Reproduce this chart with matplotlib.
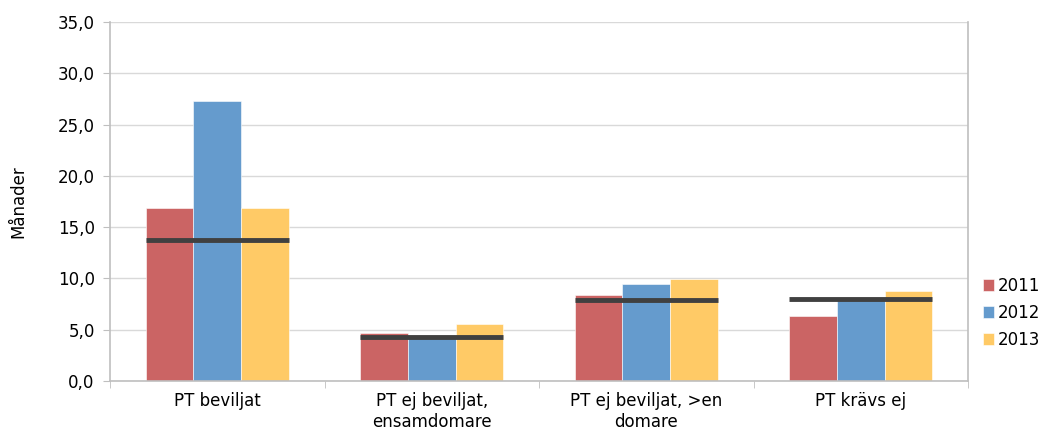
import numpy as np
import matplotlib
matplotlib.use("Agg")
import matplotlib.pyplot as plt

categories = ["PT beviljat", "PT ej beviljat,\nensamdomare", "PT ej beviljat, >en\ndomare", "PT krävs ej"]
years = ["2011", "2012", "2013"]
v2011 = [16.9, 4.7, 8.4, 6.3]
v2012 = [27.3, 4.3, 9.5, 7.9]
v2013 = [16.9, 5.6, 9.9, 8.8]
target = [13.7, 4.3, 7.9, 8.0]
colors = ["#CB6464", "#659BCD", "#FFCA66"]

plt.rcParams["font.family"] = ["DejaVu Sans"]
plt.rcParams["font.size"] = 12

fig = plt.figure(figsize=(10.45, 4.41), dpi=100)
ax = fig.add_axes([110 / 1045, 1 - 381 / 441, 858 / 1045, 359 / 441])

x = np.arange(len(categories))
w = 0.222
for i, (vals, c, lab) in enumerate(zip([v2011, v2012, v2013], colors, years)):
    ax.bar(x + (i - 1) * w, vals, w, color=c, label=lab, zorder=2,
           edgecolor="white", linewidth=0.4)

for xi, t in zip(x, target):
    ax.plot([xi - 1.5 * w, xi + 1.5 * w], [t, t], color="#404040", lw=3.5,
            solid_capstyle="butt", zorder=3)

ax.set_xlim(-0.5, len(categories) - 0.5)
ax.set_ylim(0, 35)
ax.set_yticks(np.arange(0, 36, 5))
ax.set_yticklabels([f"{v:.1f}".replace(".", ",") for v in np.arange(0, 36, 5)])
ax.set_xticks(x)
ax.set_xticklabels(categories)
ax.set_xticks(np.arange(-0.5, len(categories), 1), minor=True)
ax.tick_params(axis="x", which="major", length=0, pad=8)
ax.tick_params(axis="x", which="minor", length=5, color="#BFBFBF")
ax.tick_params(axis="y", length=5, color="#BFBFBF", pad=6)
ax.grid(axis="y", color="#D9D9D9", lw=1, zorder=0)
ax.set_axisbelow(True)
for s in ["left", "bottom", "right"]:
    ax.spines[s].set_color("#BFBFBF")
    ax.spines[s].set_linewidth(1.2)
ax.spines["top"].set_visible(False)
ax.set_ylabel("Månader", labelpad=22)

ax.legend(loc="center left", bbox_to_anchor=(1.017, 0.19), frameon=False,
          borderpad=0, borderaxespad=0,
          handlelength=0.7, handleheight=0.7, handletextpad=0.2,
          labelspacing=0.55, fontsize=12)

fig.savefig("out.png", dpi=100)
